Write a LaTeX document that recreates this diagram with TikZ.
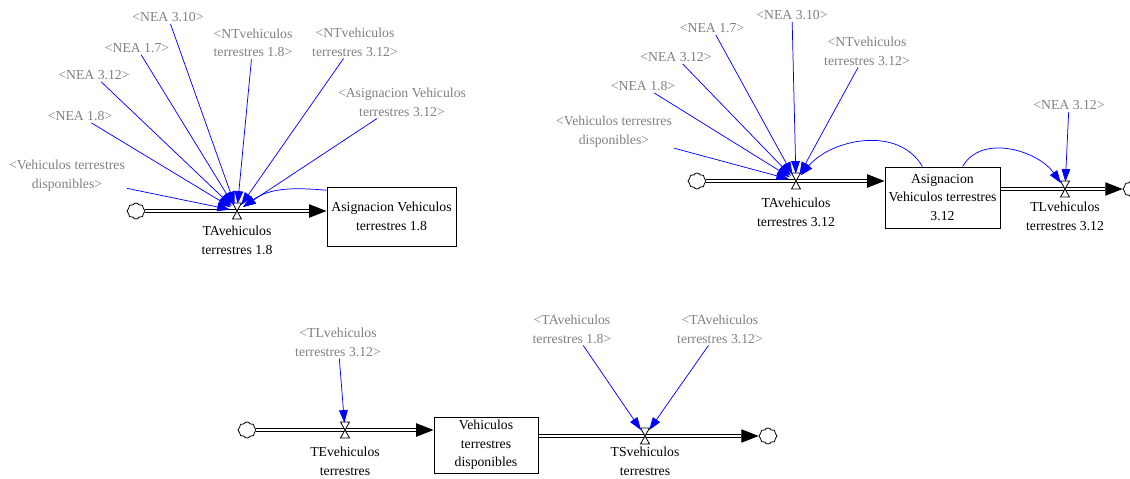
\documentclass[tikz,border=0pt]{standalone}
\usepackage{fontspec}
\setmainfont{Liberation Serif}
\usetikzlibrary{arrows.meta,shapes.symbols}
\definecolor{shadowgray}{RGB}{128,128,128}
\definecolor{linkblue}{RGB}{0,0,255}
\begin{document}
\begin{tikzpicture}[x=0.75pt,y=-0.75pt,
  every node/.style={font=\fontsize{10.3}{14}\selectfont},
  shadowvar/.style={text=shadowgray, align=center, inner sep=1.5pt},
  flowlabel/.style={align=center, inner sep=0pt},
  stock/.style={draw, line width=0.75pt, fill=white, align=center, inner sep=0pt},
  cloudnode/.style={cloud, cloud puffs=8, cloud puff arc=125, aspect=1.05, draw,
    line width=0.6pt, fill=white, inner sep=0pt, minimum width=13.5pt, minimum height=12pt},
  valvept/.style={circle, inner sep=0pt, minimum size=10.5pt},
  valvebody/.style={draw, line width=0.6pt, fill=white},
  pipetip/.style={line width=0.75pt, -{Triangle[length=13pt,width=10pt]}},
  pipe/.style={double=white, double distance=2.2pt, line width=0.7pt, shorten >=13.2pt},
  link/.style={linkblue, line width=0.55pt, -{Triangle[length=9.5pt,width=6.5pt]}},
]
\useasboundingbox (0,0) rectangle (1130,478);

% ---------- TAvehiculos terrestres 1.8 ----------
\node[cloudnode] (c1) at (136,211) {};
\node[valvept] (v1) at (237,211) {};
\node[stock, minimum width=96.75pt, minimum height=44.25pt] (b1) at (391.5,216.5)
  {Asignacion Vehiculos\\terrestres 1.8};
\node[flowlabel] (l1) at (237,240) {TAvehiculos\\terrestres 1.8};
\node[shadowvar] (s1a) at (168,17) {<NEA 3.10>};
\node[shadowvar] (s1b) at (253,43) {<NTvehiculos\\terrestres 1.8>};
\node[shadowvar] (s1c) at (355,42) {<NTvehiculos\\terrestres 3.12>};
\node[shadowvar] (s1d) at (137,48) {<NEA 1.7>};
\node[shadowvar] (s1e) at (94,75) {<NEA 3.12>};
\node[shadowvar] (s1f) at (402,102) {<Asignacion Vehiculos\\terrestres 3.12>};
\node[shadowvar] (s1g) at (80,116) {<NEA 1.8>};
\node[shadowvar] (s1h) at (67,176) {<Vehiculos terrestres\\disponibles>};

\draw[pipetip] (c1) -- (c1 -| b1.west);
\draw[pipe] (c1) -- (c1 -| b1.west);
\draw[valvebody] (v1.center) ++(-4.5,-8) -- ++(9,0) -- ++(-9,16) -- ++(9,0) -- cycle;
\foreach \s in {s1a,s1b,s1c,s1d,s1e,s1f,s1g,s1h}
  \draw[link] (\s) -- (v1);
\draw[link] (b1.158) to[out=175,in=35] (v1);

% ---------- TAvehiculos terrestres 3.12 / TLvehiculos terrestres 3.12 ----------
\node[cloudnode] (c2) at (697,181) {};
\node[valvept] (v2) at (796,181) {};
\node[stock, minimum width=86.25pt, minimum height=45.75pt] (b2) at (942.5,197.5)
  {Asignacion\\Vehiculos terrestres\\3.12};
\node[flowlabel] (l2) at (796,212) {TAvehiculos\\terrestres 3.12};
\node[valvept] (v3) at (1065,189) {};
\node[flowlabel] (l3) at (1065,216.5) {TLvehiculos\\terrestres 3.12};
\node[cloudnode] (c3) at (1132,189) {};
\node[shadowvar] (s2a) at (792,15) {<NEA 3.10>};
\node[shadowvar] (s2b) at (712,28) {<NEA 1.7>};
\node[shadowvar] (s2c) at (676,57) {<NEA 3.12>};
\node[shadowvar] (s2d) at (643,86) {<NEA 1.8>};
\node[shadowvar] (s2e) at (614,132) {<Vehiculos terrestres\\disponibles>};
\node[shadowvar] (s2f) at (867,51) {<NTvehiculos\\terrestres 3.12>};
\node[shadowvar] (s3) at (1069,105) {<NEA 3.12>};

\draw[pipetip] (c2) -- (c2 -| b2.west);
\draw[pipe] (c2) -- (c2 -| b2.west);
\draw[pipetip] (v3 -| b2.east) -- (c3);
\draw[pipe] (v3 -| b2.east) -- (c3);
\draw[valvebody] (v2.center) ++(-4.5,-8) -- ++(9,0) -- ++(-9,16) -- ++(9,0) -- cycle;
\draw[valvebody] (v3.center) ++(-4.5,-8) -- ++(9,0) -- ++(-9,16) -- ++(9,0) -- cycle;
\foreach \s in {s2a,s2b,s2c,s2d,s2e,s2f}
  \draw[link] (\s) -- (v2);
\draw[link] (b2.123) to[out=120,in=50] (v2);
\draw[link] (s3) -- (v3);
\draw[link] (b2.57) to[out=60,in=125] (v3);

% ---------- Vehiculos terrestres disponibles ----------
\node[cloudnode] (c4) at (247,430) {};
\node[valvept] (v4) at (345,430) {};
\node[stock, minimum width=78pt, minimum height=42pt] (b3) at (486,445)
  {Vehiculos\\terrestres\\disponibles};
\node[flowlabel] (l4) at (345,461) {TEvehiculos\\terrestres};
\node[valvept] (v5) at (645,436) {};
\node[flowlabel] (l5) at (645,461.5) {TSvehiculos\\terrestres};
\node[cloudnode] (c5) at (768,436) {};
\node[shadowvar] (s4) at (338,342) {<TLvehiculos\\terrestres 3.12>};
\node[shadowvar] (s5) at (572,329) {<TAvehiculos\\terrestres 1.8>};
\node[shadowvar] (s6) at (720,329) {<TAvehiculos\\terrestres 3.12>};

\draw[pipetip] (c4) -- (c4 -| b3.west);
\draw[pipe] (c4) -- (c4 -| b3.west);
\draw[pipetip] (v5 -| b3.east) -- (c5);
\draw[pipe] (v5 -| b3.east) -- (c5);
\draw[valvebody] (v4.center) ++(-4.5,-8) -- ++(9,0) -- ++(-9,16) -- ++(9,0) -- cycle;
\draw[valvebody] (v5.center) ++(-4.5,-8) -- ++(9,0) -- ++(-9,16) -- ++(9,0) -- cycle;
\draw[link] (s4) -- (v4);
\draw[link] (s5) -- (v5);
\draw[link] (s6) -- (v5);
\end{tikzpicture}
\end{document}
